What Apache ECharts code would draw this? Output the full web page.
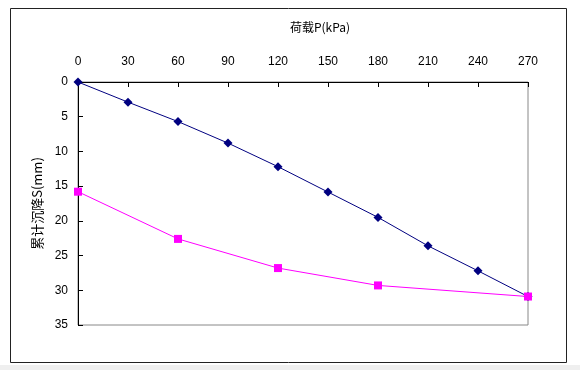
<!DOCTYPE html>
<html>
<head>
<meta charset="utf-8">
<script src="https://cdn.jsdelivr.net/npm/echarts@6/dist/echarts.min.js"></script>
<style>
html,body{margin:0;padding:0;background:#fff;}
#c{width:580px;height:370px;}
</style>
</head>
<body>
<div id="c"></div>
<script>
var xTicks = [0, 30, 60, 90, 120, 150, 180, 210, 240, 270];
var loadA = [0, 30, 60, 90, 120, 150, 180, 210, 240, 270];
var settleA = [0, 2.9, 5.7, 8.8, 12.2, 15.85, 19.5, 23.6, 27.2, 30.9];
var loadB = [0, 60, 120, 180, 270];
var settleB = [15.8, 22.6, 26.8, 29.3, 30.9];
var xName = '荷载P(kPa)';
var yName = '累计沉降S(mm)';

function pairs(xs, ys) { return xs.map(function (x, i) { return [x, ys[i]]; }); }

var chart = echarts.init(document.getElementById('c'), null, {renderer: 'canvas'});
var font = 'Liberation Sans, Arial, Noto Sans CJK SC, sans-serif';
chart.setOption({
  animation: false,
  backgroundColor: '#fff',
  graphic: [
    {type: 'rect', shape: {x: 0, y: 365, width: 580, height: 5}, style: {fill: '#efefef'}, silent: true},
    {type: 'rect', shape: {x: 10.5, y: 8.5, width: 556, height: 354}, style: {fill: 'none', stroke: '#222', lineWidth: 1}, silent: true}
  ],
  grid: {left: 78, top: 82, right: 52, bottom: 45, show: true, borderColor: '#888', borderWidth: 1, backgroundColor: 'transparent'},
  xAxis: {
    type: 'value', position: 'top', min: 0, max: 270, interval: 30,
    name: xName, nameLocation: 'middle', nameGap: 49,
    nameTextStyle: {fontSize: 12, color: '#000', fontFamily: 'Noto Sans CJK SC, sans-serif', padding: [0, 0, 0, 34]},
    axisLine: {show: true, lineStyle: {color: '#000', width: 1}},
    axisTick: {show: true, inside: true, length: 5, lineStyle: {color: '#000'}},
    axisLabel: {fontSize: 12, color: '#000', margin: 14, fontFamily: font, formatter: function (v) { return xTicks.indexOf(v) >= 0 ? String(v) : ''; }},
    splitLine: {show: false}
  },
  yAxis: {
    type: 'value', inverse: true, min: 0, max: 35, interval: 5,
    name: yName, nameLocation: 'middle', nameGap: 33, nameRotate: 90,
    nameTextStyle: {fontSize: 13, color: '#000', fontFamily: 'Noto Sans CJK SC, sans-serif'},
    axisLine: {show: true, lineStyle: {color: '#000', width: 1}},
    axisTick: {show: true, inside: true, length: 5, lineStyle: {color: '#000'}},
    axisLabel: {fontSize: 12, color: '#000', margin: 10, fontFamily: font},
    splitLine: {show: false}
  },
  series: [
    {
      type: 'line', data: pairs(loadA, settleA), symbol: 'diamond', symbolSize: 9,
      lineStyle: {color: '#000080', width: 1}, itemStyle: {color: '#000080'}, z: 3
    },
    {
      type: 'line', data: pairs(loadB, settleB), symbol: 'rect', symbolSize: 8,
      lineStyle: {color: '#ff00ff', width: 1}, itemStyle: {color: '#ff00ff'}, z: 4
    }
  ]
});
</script>
</body>
</html>
